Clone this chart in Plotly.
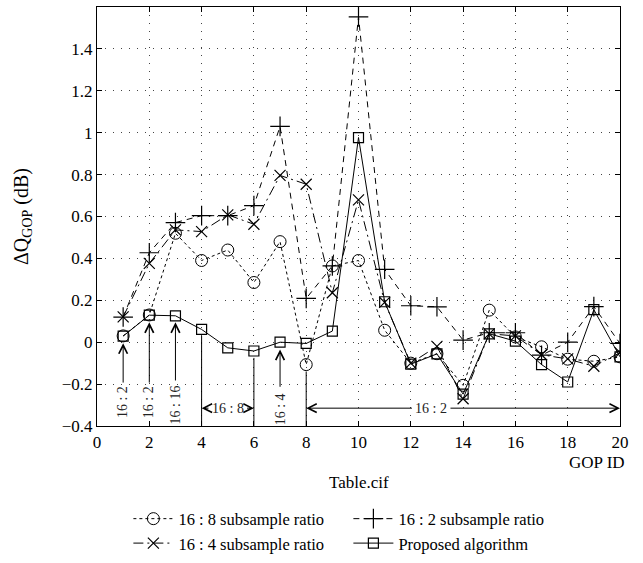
import plotly.graph_objects as go

gop = list(range(1, 21))

ratio_16_8 = [0.03, 0.13, 0.52, 0.39, 0.44, 0.285, 0.48, -0.107, 0.364, 0.39,
              0.057, -0.10, -0.055, -0.206, 0.153, 0.025, -0.022, -0.081, -0.091, -0.07]
ratio_16_4 = [0.121, 0.376, 0.536, 0.528, 0.608, 0.563, 0.796, 0.754, 0.236, 0.679,
              0.19, -0.10, -0.02, -0.27, 0.04, 0.03, -0.06, -0.08, -0.115, -0.05]
ratio_16_2 = [0.12, 0.427, 0.571, 0.604, 0.604, 0.652, 1.03, 0.209, 0.364, 1.553,
              0.348, 0.174, 0.169, 0.01, 0.045, 0.045, -0.062, 0.0, 0.17, -0.006]
proposed = [0.029, 0.129, 0.126, 0.061, -0.027, -0.042, 0.0, -0.006, 0.053, 0.977,
            0.193, -0.105, -0.056, -0.248, 0.04, 0.005, -0.107, -0.19, 0.155, -0.07]

x_ticks = list(range(0, 21, 2))
y_ticks = [-0.4, -0.2, 0, 0.2, 0.4, 0.6, 0.8, 1, 1.2, 1.4, 1.6]
y_tick_text = ["\u22120.4", "\u22120.2", "0", "0.2", "0.4", "0.6", "0.8", "1", "1.2", "1.4", "1.6"]

# annotation data: vertical arrows (x, tail y, head y, label, label y)
arrow_x = [1, 2, 3, 7]
arrow_tail = [-0.2, -0.2, -0.19, -0.22]
arrow_head = [-0.005, 0.095, 0.095, -0.035]
arrow_label = ["16 : 2", "16 : 2", "16 : 16", "16 : 4"]
arrow_label_y = [-0.285, -0.285, -0.30, -0.32]
# plain vertical lines (x, top y)
line_x = [4, 6, 8]
line_top = [0.03, -0.075, -0.14]
band_y = -0.315

FONT = "Liberation Serif"
fs = 17
afs = 14
AH = dict(showarrow=True, arrowhead=5, arrowsize=1.7, arrowwidth=1, arrowcolor="black",
          xref="x", yref="y", axref="x", ayref="y", text="")

fig = go.Figure()
fig.add_trace(go.Scatter(x=gop, y=ratio_16_8, name="16 : 8 subsample ratio", mode="lines+markers",
                         line=dict(color="black", width=1, dash="dot"),
                         marker=dict(symbol="circle-open", size=12, color="black", line=dict(width=1))))
fig.add_trace(go.Scatter(x=gop, y=ratio_16_2, name="16 : 2 subsample ratio", mode="lines+markers",
                         line=dict(color="black", width=1, dash="6px,5px"),
                         marker=dict(symbol="cross-thin-open", size=14, color="black", line=dict(width=1.2))))
fig.add_trace(go.Scatter(x=gop, y=ratio_16_4, name="16 : 4 subsample ratio", mode="lines+markers",
                         line=dict(color="black", width=1, dash="10px,4px,2px,4px"),
                         marker=dict(symbol="x-thin-open", size=11, color="black", line=dict(width=1.2))))
fig.add_trace(go.Scatter(x=gop, y=proposed, name="Proposed algorithm", mode="lines+markers",
                         line=dict(color="black", width=1),
                         marker=dict(symbol="square-open", size=10, color="black", line=dict(width=1.2))))

anns = []
for xv, t, h, lab, ly in zip(arrow_x, arrow_tail, arrow_head, arrow_label, arrow_label_y):
    anns.append(dict(x=xv, y=h, ax=xv, ay=t, **AH))
    anns.append(dict(x=xv, y=ly, xref="x", yref="y", text=lab, showarrow=False, textangle=-90,
                     font=dict(family=FONT, size=afs, color="#222"), bgcolor="white", borderpad=0))
for xv, top in zip(line_x, line_top):
    fig.add_shape(type="line", x0=xv, x1=xv, y0=-0.4, y1=top, xref="x", yref="y",
                  line=dict(color="black", width=1))

# 16:8 band between 4 and 6
anns.append(dict(x=5, y=band_y, xref="x", yref="y", text="16 : 8", showarrow=False,
                 font=dict(family=FONT, size=afs, color="#222")))
anns.append(dict(x=4, y=band_y, ax=4.32, ay=band_y, **AH))
anns.append(dict(x=6, y=band_y, ax=5.68, ay=band_y, **AH))
# 16:2 band between 8 and 20
anns.append(dict(x=12.78, y=band_y, xref="x", yref="y", text="16 : 2", showarrow=False,
                 font=dict(family=FONT, size=afs, color="#222")))
anns.append(dict(x=8, y=band_y, ax=12.1, ay=band_y, **AH))
anns.append(dict(x=20, y=band_y, ax=13.46, ay=band_y, **AH))

anns.append(dict(x=0.5, y=-0.135, xref="paper", yref="paper", text="Table.cif", showarrow=False,
                 xanchor="center", yanchor="middle", font=dict(family=FONT, size=fs, color="black")))
anns.append(dict(x=1.0, y=-0.088, xref="paper", yref="paper", text="GOP ID", showarrow=False,
                 xanchor="right", yanchor="middle", xshift=7,
                 font=dict(family=FONT, size=fs, color="black")))

fig.update_layout(
    width=643, height=563,
    margin=dict(l=97, r=23, t=7, b=137, autoexpand=False),
    paper_bgcolor="white", plot_bgcolor="white",
    font=dict(family=FONT, size=fs, color="black"),
    annotations=anns,
    showlegend=True,
    legend=dict(orientation="h", x=0.06, y=-0.18, xanchor="left", yanchor="top",
                entrywidth=165, itemwidth=40, tracegroupgap=0,
                font=dict(family=FONT, size=16.5, color="black"), bgcolor="rgba(0,0,0,0)"),
    xaxis=dict(range=[0, 20], tickvals=x_ticks, showline=True, mirror="ticks", linecolor="black",
               linewidth=1.2, ticks="inside", ticklen=5, tickcolor="black", automargin=False,
               showgrid=True, gridcolor="#444", gridwidth=1, griddash="1px,7px", zeroline=False),
    yaxis=dict(range=[-0.4001, 1.6001], tickvals=y_ticks, ticktext=y_tick_text, showline=True, mirror="ticks",
               linecolor="black", linewidth=1.2, ticks="inside", ticklen=5, tickcolor="black",
               showgrid=True, gridcolor="#444", gridwidth=1, griddash="1px,7px", zeroline=False,
               automargin=False,
               title=dict(text="\u0394Q<sub>GOP</sub> (dB)", standoff=27)),
)

fig.write_html("out.html", config={"displayModeBar": False},
               post_script="document.body.style.margin='0px';")
